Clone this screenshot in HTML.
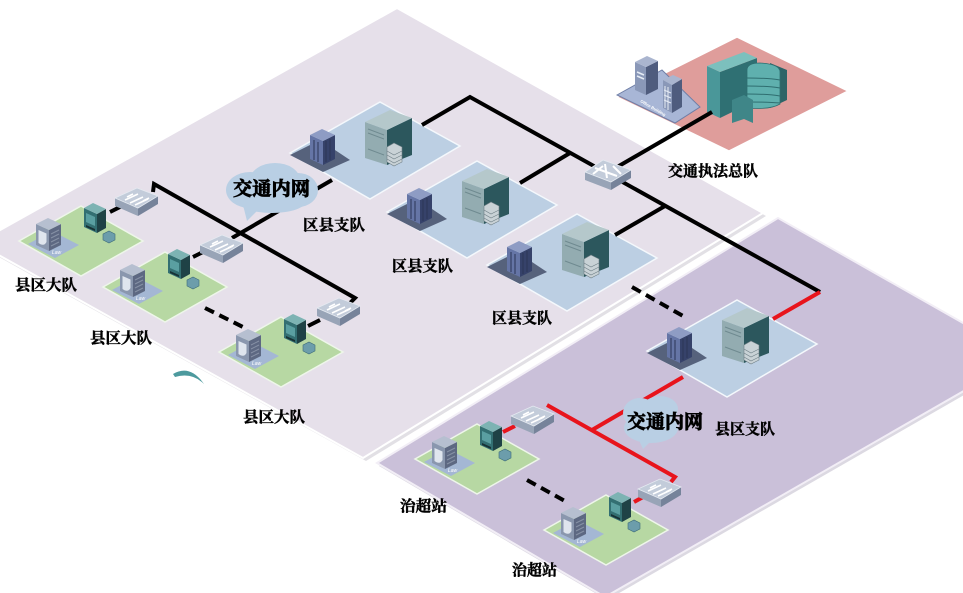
<!DOCTYPE html>
<html><head><meta charset="utf-8">
<style>html,body{margin:0;padding:0;background:#fff;overflow:hidden}svg{display:block}
.lb{font-family:"Liberation Serif","Noto Serif CJK SC","Noto Sans CJK SC",serif;font-weight:bold;fill:#000;stroke:#000;stroke-width:0.45}
.cl{stroke-width:0.8}
</style></head>
<body>
<svg width="963" height="593" viewBox="0 0 963 593" xmlns="http://www.w3.org/2000/svg">
<defs>
 <g id="gs">
  <polygon points="0,0 62,-35 124,0 62,35" fill="#b7d8a3" stroke="#eef6ea" stroke-width="1.5"/>
  <polygon points="9,3 33,-10 60,4 36,17" fill="#a4b7d4"/>
  <text x="33" y="13" font-family="Liberation Sans, sans-serif" font-size="5" font-style="italic" fill="#fff">Law</text>
  <polygon points="17,-17 30,-11 30,10 17,4" fill="#8a97ae"/>
  <polygon points="30,-11 42,-17 42,4 30,10" fill="#5d6882"/>
  <polygon points="17,-17 29,-23 42,-17 30,-11" fill="#b6bfd0"/>
  <path d="M19.5,-11 L27.5,-7.5 L27.5,1 Q25,6 19.5,2 Z" fill="#dfe5ee"/>
  <path d="M32,-7 L40,-11 M32,-3 L40,-7 M32,1 L40,-3 M32,5 L40,1" stroke="#8791a6" stroke-width="1"/>
  <polygon points="65,-33 78,-27 78,-8 65,-14" fill="#336f72"/>
  <polygon points="78,-27 87,-32 87,-13 78,-8" fill="#1f4246"/>
  <polygon points="65,-33 74,-38 87,-32 78,-27" fill="#7db3b3"/>
  <polygon points="67,-28 76,-24 76,-15 67,-19" fill="#5a9fa1"/>
  <polygon points="67,-16 76,-12 76,-10 67,-14" fill="#183235"/>
  <polygon points="84,-7 90,-10 96,-7 96,-1 90,2 84,-1" fill="#6c9dab" stroke="#3c6a78" stroke-width=".6"/>
 </g>
 <g id="bp">
  <polygon points="0,0 90,-51 170,-7 80,46" fill="#bccfe3" stroke="#f4f8fc" stroke-width="1.5"/>
  <polygon points="0,2 30,-13 60,7 33,19" fill="#56627c"/>
  <polygon points="20,-18 33,-12 33,12 20,6" fill="#6575a6"/>
  <polygon points="33,-12 45,-18 45,6 33,12" fill="#36426a"/>
  <polygon points="20,-18 32,-24 45,-18 33,-12" fill="#8e9cc4"/>
  <path d="M24,-13 V7 M28,-11 V9 M36,-12 L36,9 M40,-14 V7" stroke="#2c3556" stroke-width="1"/>
  <polygon points="75,-31 97,-23 97,12 75,5" fill="#93acb1"/>
  <polygon points="97,-23 122,-35 122,2 97,12" fill="#2c575d"/>
  <polygon points="75,-31 100,-43 122,-35 97,-23" fill="#b5c8cb"/>
  <path d="M78,-24 L94,-18 M78,-20 L94,-14 M78,-4 L94,2" stroke="#6f8a90" stroke-width="1"/>
  <polygon points="97,-6 104,-10 112,-6 112,9 104,13 97,9" fill="#c9d2d6" stroke="#6f7f86" stroke-width=".6"/>
  <path d="M97,-2 L104,2 L112,-2 M97,2 L104,6 L112,2 M97,6 L104,10 L112,6" stroke="#6f7f86" stroke-width=".6" fill="none"/>
 </g>
 <g id="sw">
  <polygon points="-22,-2 1,8 1,16 -22,6" fill="#98a4b7"/>
  <polygon points="1,8 21,-4 21,4 1,16" fill="#76839a"/>
  <polygon points="-22,-2 0,-12 21,-4 1,8" fill="#c3ccda" stroke="#e5eaf1" stroke-width=".8"/>
  <path d="M-12,0 L1,-6 M-7,3 L6,-3 M-2,5 L11,-1 M-10,-3 L-4,-6 M6,1 L12,-2" stroke="#fff" stroke-width="1.6" fill="none"/>
 </g>
</defs>
<rect width="963" height="593" fill="#fff"/>
<polygon points="-21,246 399,11 766,216 366,461" fill="#cfcbd3" opacity=".6"/>
<polygon points="-23,243 397,8 763,213 363,458" fill="#e6e0ea" stroke="#fff" stroke-width="2"/>
<polygon points="379,466 780,221 1025,360 607,600" fill="#c5c0ce" opacity=".6"/>
<polygon points="377,463 778,218 1023,357 605,597" fill="#cac0d9" stroke="#f2eef6" stroke-width="2"/>
<polygon points="617,97 737,37 848,91 729,151" fill="#df9d9b" stroke="#fff" stroke-width="1.5"/>
<polygon points="617,95 662,70 700,107 675,123" fill="#a8b6d6" stroke="#6f7ea6" stroke-width="1"/>
<polygon points="635,62 646,67 646,95 635,90" fill="#8a98b8"/>
<polygon points="646,67 658,61 658,89 646,95" fill="#4f5c7e"/>
<polygon points="635,62 647,56 658,61 646,67" fill="#aab5cf"/>
<path d="M637,72 L644,75 M637,76 L644,79" stroke="#e6ecf5" stroke-width="1.5"/>
<polygon points="663,80 672,85 672,113 663,108" fill="#8a98b8"/>
<polygon points="672,85 682,79 682,107 672,113" fill="#4f5c7e"/>
<polygon points="663,80 673,75 682,79 672,85" fill="#aab5cf"/>
<path d="M665,86 V108 M668,87 V110 M664,90 L671,93 M664,95 L671,98 M664,100 L671,103" stroke="#e6ecf5" stroke-width="1"/>
<text x="640" y="102" font-family="Liberation Sans, sans-serif" font-size="4" font-weight="bold" fill="#fff" transform="rotate(30 640 102)">Office Building</text>
<polygon points="707,66 720,72 720,118 707,112" fill="#4a9799"/>
<polygon points="720,72 757,58 757,100 720,118" fill="#2f7073"/>
<polygon points="707,66 744,52 757,58 720,72" fill="#7cc0bd"/>
<polygon points="770,63 787,70 787,100 770,108" fill="#2d6467"/>
<path d="M747,70 Q747,63 760,63 Q780,64 780,72 L780,104 Q770,110 747,108 Z" fill="#5fb0ae" stroke="#2f6e70" stroke-width=".8"/>
<path d="M747,78 Q768,78 780,80 M747,86 Q768,86 780,88 M747,94 Q768,94 780,96 M747,102 Q768,102 780,103" stroke="#2f6e70" stroke-width="1" fill="none"/>
<polygon points="732,100 744,95 753,100 753,123 744,119 732,123" fill="#3f8688"/>
<use href="#bp" transform="translate(290,153)"/>
<use href="#bp" transform="translate(387,212)"/>
<use href="#bp" transform="translate(487,265)"/>
<use href="#bp" transform="translate(647,351)"/>
<use href="#gs" transform="translate(19,241)"/>
<use href="#gs" transform="translate(103,287)"/>
<use href="#gs" transform="translate(219,352)"/>
<use href="#gs" transform="translate(415,459)"/>
<use href="#gs" transform="translate(544,530)"/>
<g stroke="#000" stroke-width="4" fill="none" stroke-linejoin="miter">
 <polyline points="422,125 470,97 820,292"/>
 <line x1="570" y1="153" x2="520" y2="183"/>
 <line x1="665" y1="206" x2="615" y2="235"/>
 <line x1="612" y1="170" x2="712" y2="112"/>
 <polyline points="153,192 154,184 355,298 348,305"/>
 <line x1="332" y1="180" x2="232" y2="238"/>
 <line x1="110" y1="212" x2="122" y2="206"/>
 <line x1="193" y1="257" x2="205" y2="251"/>
 <line x1="308" y1="326" x2="320" y2="320"/>
 <g stroke-dasharray="10,6">
  <line x1="205" y1="308" x2="243" y2="327"/>
  <line x1="632" y1="287" x2="683" y2="316"/>
  <line x1="527" y1="480" x2="565" y2="501"/>
 </g>
</g>
<g stroke="#e8141c" stroke-width="4" fill="none">
 <line x1="820" y1="292" x2="773" y2="319"/>
 <line x1="683" y1="377" x2="592" y2="430"/>
 <polyline points="547,405 675,477 671,482"/>
 <line x1="503" y1="432" x2="515" y2="426"/>
 <line x1="634" y1="502" x2="645" y2="496"/>
</g>
<use href="#sw" transform="translate(137,200)"/>
<use href="#sw" transform="translate(222,247)"/>
<use href="#sw" transform="translate(339,310)"/>
<use href="#sw" transform="translate(533,418)"/>
<use href="#sw" transform="translate(660,491)"/>
<g transform="translate(607,172)">
 <polygon points="-22,0 4,10 4,18 -22,8" fill="#98a4b7"/>
 <polygon points="4,10 24,-2 24,6 4,18" fill="#76839a"/>
 <polygon points="-22,0 -4,-12 24,-2 4,10" fill="#c3ccda" stroke="#e5eaf1" stroke-width=".8"/>
 <path d="M-12,-4 L10,4 M-2,-8 L0,6 M-14,2 L-4,-6 M6,-6 L14,2" stroke="#fff" stroke-width="2" fill="none"/>
</g>
<g fill="#b9cfe4">
 <ellipse cx="250" cy="190" rx="24" ry="18"/>
 <ellipse cx="275" cy="180" rx="25" ry="17"/>
 <ellipse cx="298" cy="190" rx="20" ry="17"/>
 <ellipse cx="272" cy="200" rx="35" ry="13"/>
 <path d="M243,205 L247,221 L260,208 Z"/>
</g>
<g fill="#b9cfe4">
 <ellipse cx="640" cy="413" rx="17" ry="15"/>
 <ellipse cx="660" cy="409" rx="18" ry="13"/>
 <ellipse cx="651" cy="428" rx="27" ry="15"/>
 <path d="M638,438 L643,449 L652,440 Z"/>
</g>
<path d="M173,374 Q190,364 204,384 Q192,372 175,377 Z" fill="#4d9a9e"/>
<text class="lb" x="15" y="290" font-size="15" textLength="62" lengthAdjust="spacingAndGlyphs">县区大队</text>
<text class="lb" x="90" y="343" font-size="15" textLength="62" lengthAdjust="spacingAndGlyphs">县区大队</text>
<text class="lb" x="243" y="422" font-size="15" textLength="62" lengthAdjust="spacingAndGlyphs">县区大队</text>
<text class="lb" x="303" y="230" font-size="15" textLength="62" lengthAdjust="spacingAndGlyphs">区县支队</text>
<text class="lb" x="392" y="271" font-size="15" textLength="61" lengthAdjust="spacingAndGlyphs">区县支队</text>
<text class="lb" x="492" y="323" font-size="15" textLength="60" lengthAdjust="spacingAndGlyphs">区县支队</text>
<text class="lb" x="715" y="434" font-size="15" textLength="60" lengthAdjust="spacingAndGlyphs">县区支队</text>
<text class="lb" x="668" y="176" font-size="15" textLength="90" lengthAdjust="spacingAndGlyphs">交通执法总队</text>
<text class="lb cl" x="233" y="195" font-size="19" textLength="77" lengthAdjust="spacingAndGlyphs">交通内网</text>
<text class="lb cl" x="627" y="428" font-size="19" textLength="76" lengthAdjust="spacingAndGlyphs">交通内网</text>
<text class="lb" x="400" y="511" font-size="15" textLength="47" lengthAdjust="spacingAndGlyphs">治超站</text>
<text class="lb" x="512" y="575" font-size="15" textLength="45" lengthAdjust="spacingAndGlyphs">治超站</text>
</svg>
</body></html>
